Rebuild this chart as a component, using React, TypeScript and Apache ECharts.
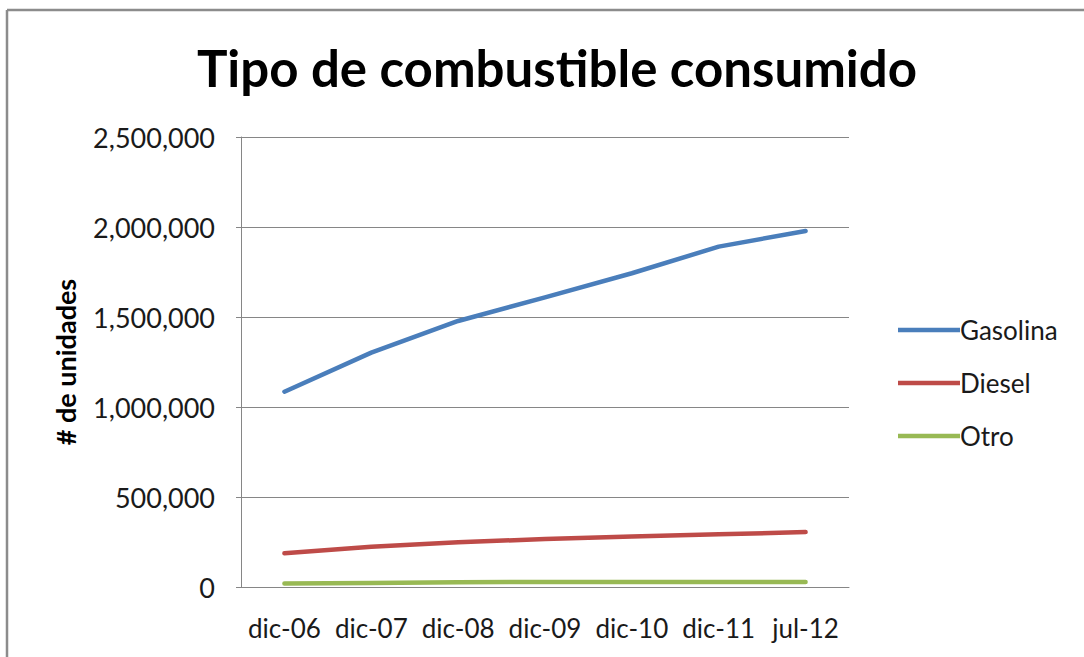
import React, { useEffect, useRef } from "react";
import * as echarts from "echarts";

// Periods on the category axis
const categories = ["dic-06", "dic-07", "dic-08", "dic-09", "dic-10", "dic-11", "jul-12"];

// Units per fuel type
const gasolina = [1085000, 1302000, 1478000, 1609000, 1743000, 1891000, 1978000];
const diesel = [187000, 224000, 248000, 267000, 280000, 293000, 305000];
const otro = [20000, 22000, 27000, 28000, 28000, 28000, 28000];

const yTicks = { min: 0, max: 2500000, interval: 500000 };

const FONT = "Lato, 'Open Sans', sans-serif";

export default function App() {
  const ref = useRef<HTMLDivElement>(null);

  useEffect(() => {
    if (!ref.current) return;
    const chart = echarts.init(ref.current, null, { renderer: "svg" });
    const lineSeries = (name: string, data: number[], color: string) => ({
      name,
      type: "line",
      data,
      symbol: "none",
      lineStyle: { color, width: 4.5, cap: "round", join: "round" },
      itemStyle: { color },
    });
    chart.setOption({
      animation: false,
      backgroundColor: "#ffffff",
      textStyle: { fontFamily: FONT },
      title: {
        text: "Tipo de combustible consumido",
        left: 552,
        top: 37,
        textAlign: "center",
        textStyle: { fontFamily: FONT, fontSize: 51, fontWeight: "bold", color: "#000000" },
      },
      grid: { left: 241, right: 235, top: 137, bottom: 70 },
      legend: {
        orient: "vertical",
        left: 893,
        top: 312,
        itemWidth: 62,
        itemHeight: 26,
        itemGap: 27,
        icon: "path://M0,0 L62,0 L62,4.5 L0,4.5 Z",
        textStyle: { fontFamily: FONT, fontSize: 26, color: "#1a1a1a", padding: [0, 0, 0, -5] },
        data: ["Gasolina", "Diesel", "Otro"],
      },
      xAxis: {
        type: "category",
        data: categories,
        boundaryGap: true,
        axisLine: { lineStyle: { color: "#868686", width: 1 } },
        axisTick: { show: false },
        axisLabel: { fontFamily: FONT, fontSize: 26, color: "#1a1a1a", margin: 28, interval: 0 },
      },
      yAxis: {
        type: "value",
        min: yTicks.min,
        max: yTicks.max,
        interval: yTicks.interval,
        name: "# de unidades",
        nameLocation: "middle",
        nameGap: 162,
        nameRotate: 90,
        nameTextStyle: { fontFamily: FONT, fontSize: 27, fontWeight: "bold", color: "#000000" },
        axisLine: { show: true, lineStyle: { color: "#868686", width: 1 } },
        axisTick: { show: true, length: 5, inside: false, lineStyle: { color: "#868686" } },
        splitLine: { lineStyle: { color: "#868686", width: 1 } },
        axisLabel: {
          fontFamily: FONT,
          fontSize: 27,
          color: "#1a1a1a",
          margin: 26,
          formatter: (v: number) => v.toLocaleString("en-US"),
        },
      },
      graphic: [
        { type: "line", shape: { x1: 7, y1: 10, x2: 1084, y2: 10 }, style: { stroke: "#8c8c8c", lineWidth: 2.5 } },
        { type: "line", shape: { x1: 7, y1: 10, x2: 7, y2: 657 }, style: { stroke: "#8c8c8c", lineWidth: 2.5 } },
      ],
      series: [
        lineSeries("Gasolina", gasolina, "#4A7EBB"),
        lineSeries("Diesel", diesel, "#BE4B48"),
        lineSeries("Otro", otro, "#98B954"),
      ],
    });
    return () => chart.dispose();
  }, []);

  return (
    <div
      ref={ref}
      style={{ position: "fixed", left: 0, top: 0, width: 1084, height: 657, background: "#fff" }}
    />
  );
}
